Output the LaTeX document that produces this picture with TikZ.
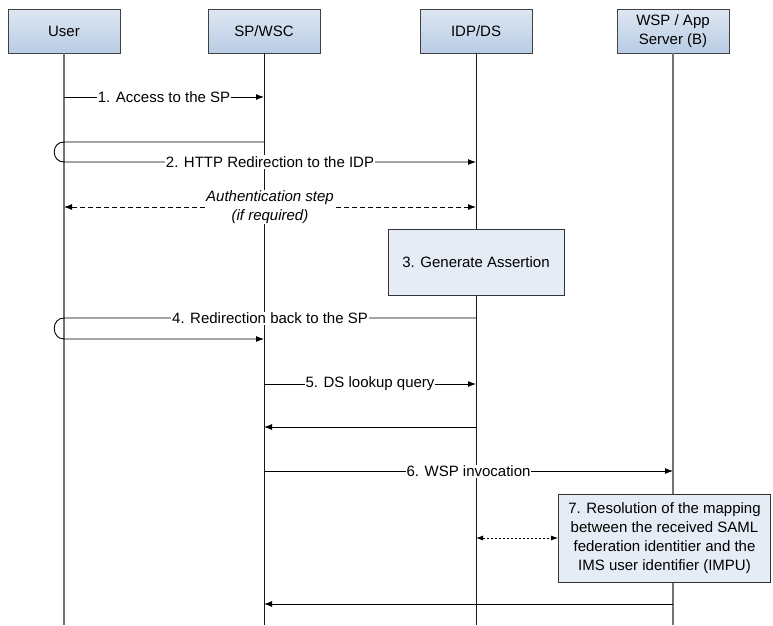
\documentclass[tikz,border=0pt]{standalone}
\usepackage{fontspec}
\setmainfont{Liberation Sans}
\usetikzlibrary{arrows.meta}
\definecolor{headtop}{RGB}{222,231,243}
\definecolor{headbot}{RGB}{184,204,228}
\definecolor{procfill}{RGB}{230,236,246}
\begin{document}
\begin{tikzpicture}[x=1pt,y=-1pt,
  every node/.style={font=\fontsize{15}{19}\selectfont},
  head/.style={draw=black!75, line width=0.8pt, top color=headtop, bottom color=headbot,
    minimum width=112pt, minimum height=44pt, align=center, inner sep=2pt},
  proc/.style={draw=black!80, line width=0.8pt, fill=procfill, align=center, inner sep=2pt},
  life/.style={line width=1.1pt, draw=black!55},
  lifedark/.style={line width=0.9pt, draw=black!90},
  tip/.style={Latex[length=8pt,width=6pt]},
  msg/.style={line width=0.9pt, -{Latex[length=8pt,width=6pt]}},
  lbl/.style={fill=white, inner sep=1pt},
  ilbl/.style={fill=white, inner sep=1pt, align=center, font=\fontsize{15}{19}\selectfont\itshape},
]
\useasboundingbox (0,0) rectangle (773,625);

% headers
\node[head] (user) at (64,31) {User};
\node[head] (sp)   at (264,31) {SP/WSC};
\node[head] (idp)  at (476,31) {IDP/DS};
\node[head] (wsp)  at (673,31) {WSP / App\\Server (B)};

\coordinate (userEnd) at (64,625);
\coordinate (spEnd) at (264,625);
\coordinate (idpEnd) at (476,625);
\coordinate (wspEnd) at (673,625);

% lifelines
\draw[life] (user.south) -- (userEnd);
\draw[lifedark] (sp.south) -- (spEnd);
\draw[lifedark] (idp.south) -- (idpEnd);
\draw[life] (wsp.south) -- (wspEnd);

% 1
\draw[msg] (user |- 0,97) -- node[lbl]{1. Access to the SP} (sp |- 0,97);

% 2
\draw[msg] (sp |- 0,142) -- (user |- 0,142) .. controls (51,142) and (51,162) .. (user |- 0,162)
  -- node[lbl]{2. HTTP Redirection to the IDP} (idp |- 0,162);

% authentication
\draw[line width=0.9pt, dash pattern=on 5pt off 3pt, {Latex[length=8pt,width=6pt]}-{Latex[length=8pt,width=6pt]}]
  (user |- 0,207) -- node[ilbl]{Authentication step\\(if required)} (idp |- 0,207);

% 3
\node[proc, minimum width=176pt, minimum height=66pt] (gen) at (476,262) {3. Generate Assertion};

% 4
\draw[msg] (idp |- 0,318) -- node[lbl]{4. Redirection back to the SP} (user |- 0,318)
  .. controls (51,318) and (51,339) .. (user |- 0,339) -- (sp |- 0,339);

% 5
\draw[msg] (sp |- 0,384) -- node[lbl]{5. DS lookup query} (idp |- 0,384);
\draw[msg] (idp |- 0,427) -- (sp |- 0,427);

% 6
\draw[msg] (sp |- 0,471) -- node[lbl]{6. WSP invocation} (wsp |- 0,471);

% 7
\node[proc, minimum width=212pt, minimum height=88pt] (res) at (664.5,538)
  {7. Resolution of the mapping\\between the received SAML\\federation identitier and the\\IMS user identifier (IMPU)};
\draw[line width=0.8pt, dash pattern=on 2.5pt off 1.5pt, {Latex[length=7pt,width=5pt]}-{Latex[length=7pt,width=5pt]}]
  (idp |- res.west) -- (res.west);

\draw[msg] (wsp |- 0,604) -- (sp |- 0,604);
\end{tikzpicture}
\end{document}
